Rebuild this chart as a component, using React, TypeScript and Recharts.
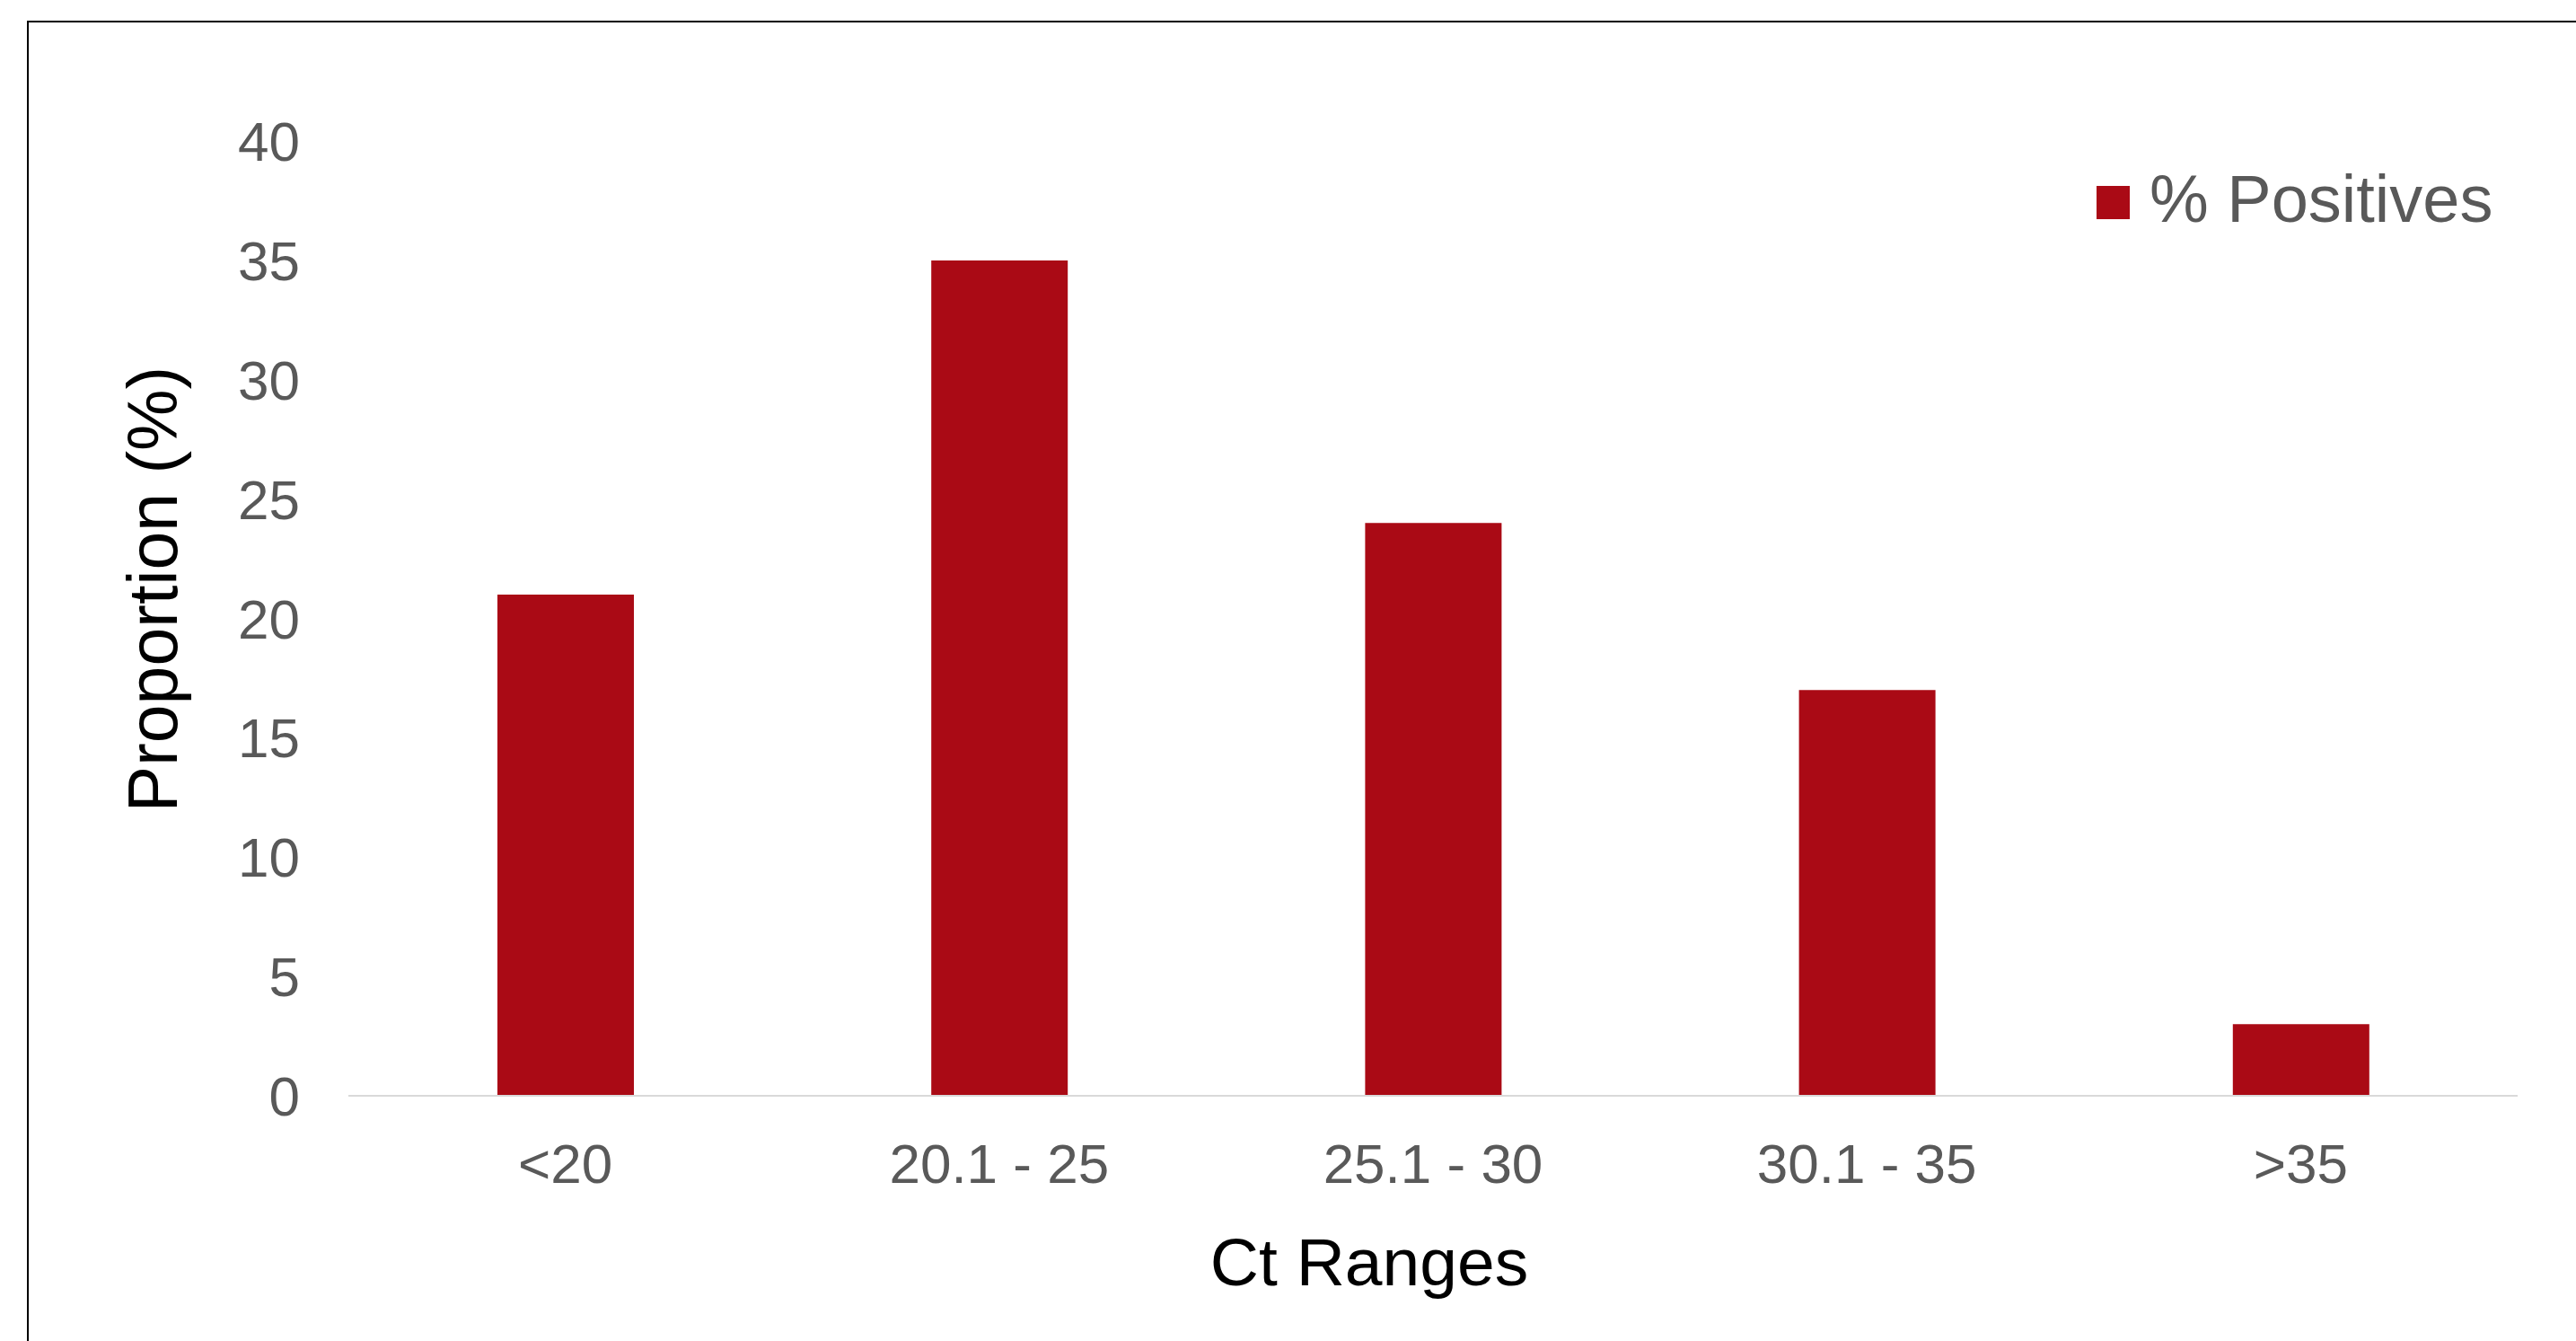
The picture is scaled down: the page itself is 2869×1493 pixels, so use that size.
import { BarChart, Bar, XAxis, YAxis, Legend } from "recharts";

const ctRanges = ["<20", "20.1 - 25", "25.1 - 30", "30.1 - 35", ">35"];
const positives = [21, 35, 24, 17, 3];
const yTicks = [0, 5, 10, 15, 20, 25, 30, 35, 40];

const data = ctRanges.map((range, i) => ({ range, positives: positives[i] }));

const FONT = "'Liberation Sans', Arial, sans-serif";
const RED = "#AA0A15";
const GREY = "#595959";

const LegendBox = () => (
  <div style={{ display: "flex", alignItems: "center", fontFamily: FONT, fontSize: 74, lineHeight: 1, color: GREY }}>
    <span style={{ width: 37, height: 37, background: RED, marginRight: 22, marginTop: 6 }} />
    <span>% Positives</span>
  </div>
);

const XTitle = () => (
  <text x={1525} y={1431} textAnchor="middle" fontFamily={FONT} fontSize={75} fill="#000">
    Ct Ranges
  </text>
);

const YTitle = () => (
  <text
    x={197}
    y={656}
    textAnchor="middle"
    fontFamily={FONT}
    fontSize={77}
    fill="#000"
    transform="rotate(-90, 197, 656)"
  >
    Proportion (%)
  </text>
);

export default function App() {
  return (
    <div style={{ position: "absolute", left: 0, top: 0, width: 2869, height: 1493, overflow: "hidden", background: "#fff" }}>
      <div style={{ position: "absolute", left: 30, top: 23, width: 3000, height: 3000, border: "2px solid #000" }} />
      <div style={{ position: "absolute", left: 0, top: 0 }}>
        <BarChart width={2869} height={1493} data={data} margin={{ top: 157, right: 65, left: 0, bottom: 0 }}>
          <XAxis
            dataKey="range"
            height={273}
            axisLine={{ stroke: "#D9D9D9", strokeWidth: 2 }}
            tickLine={false}
            tickSize={0}
            tickMargin={53}
            tick={{ fill: GREY, fontSize: 62, fontFamily: FONT }}
            interval={0}
            label={<XTitle />}
          />
          <YAxis
            width={388}
            domain={[0, 40]}
            ticks={yTicks}
            axisLine={false}
            tickLine={false}
            tickSize={0}
            tickMargin={54}
            tick={{ fill: GREY, fontSize: 62, fontFamily: FONT }}
            label={<YTitle />}
          />
          <Legend
            layout="horizontal"
            verticalAlign="middle"
            align="center"
            content={<LegendBox />}
            wrapperStyle={{ left: 2335, top: 185, width: "auto", height: "auto" }}
          />
          <Bar dataKey="positives" name="% Positives" fill={RED} barSize={152} isAnimationActive={false} />
        </BarChart>
      </div>
    </div>
  );
}
